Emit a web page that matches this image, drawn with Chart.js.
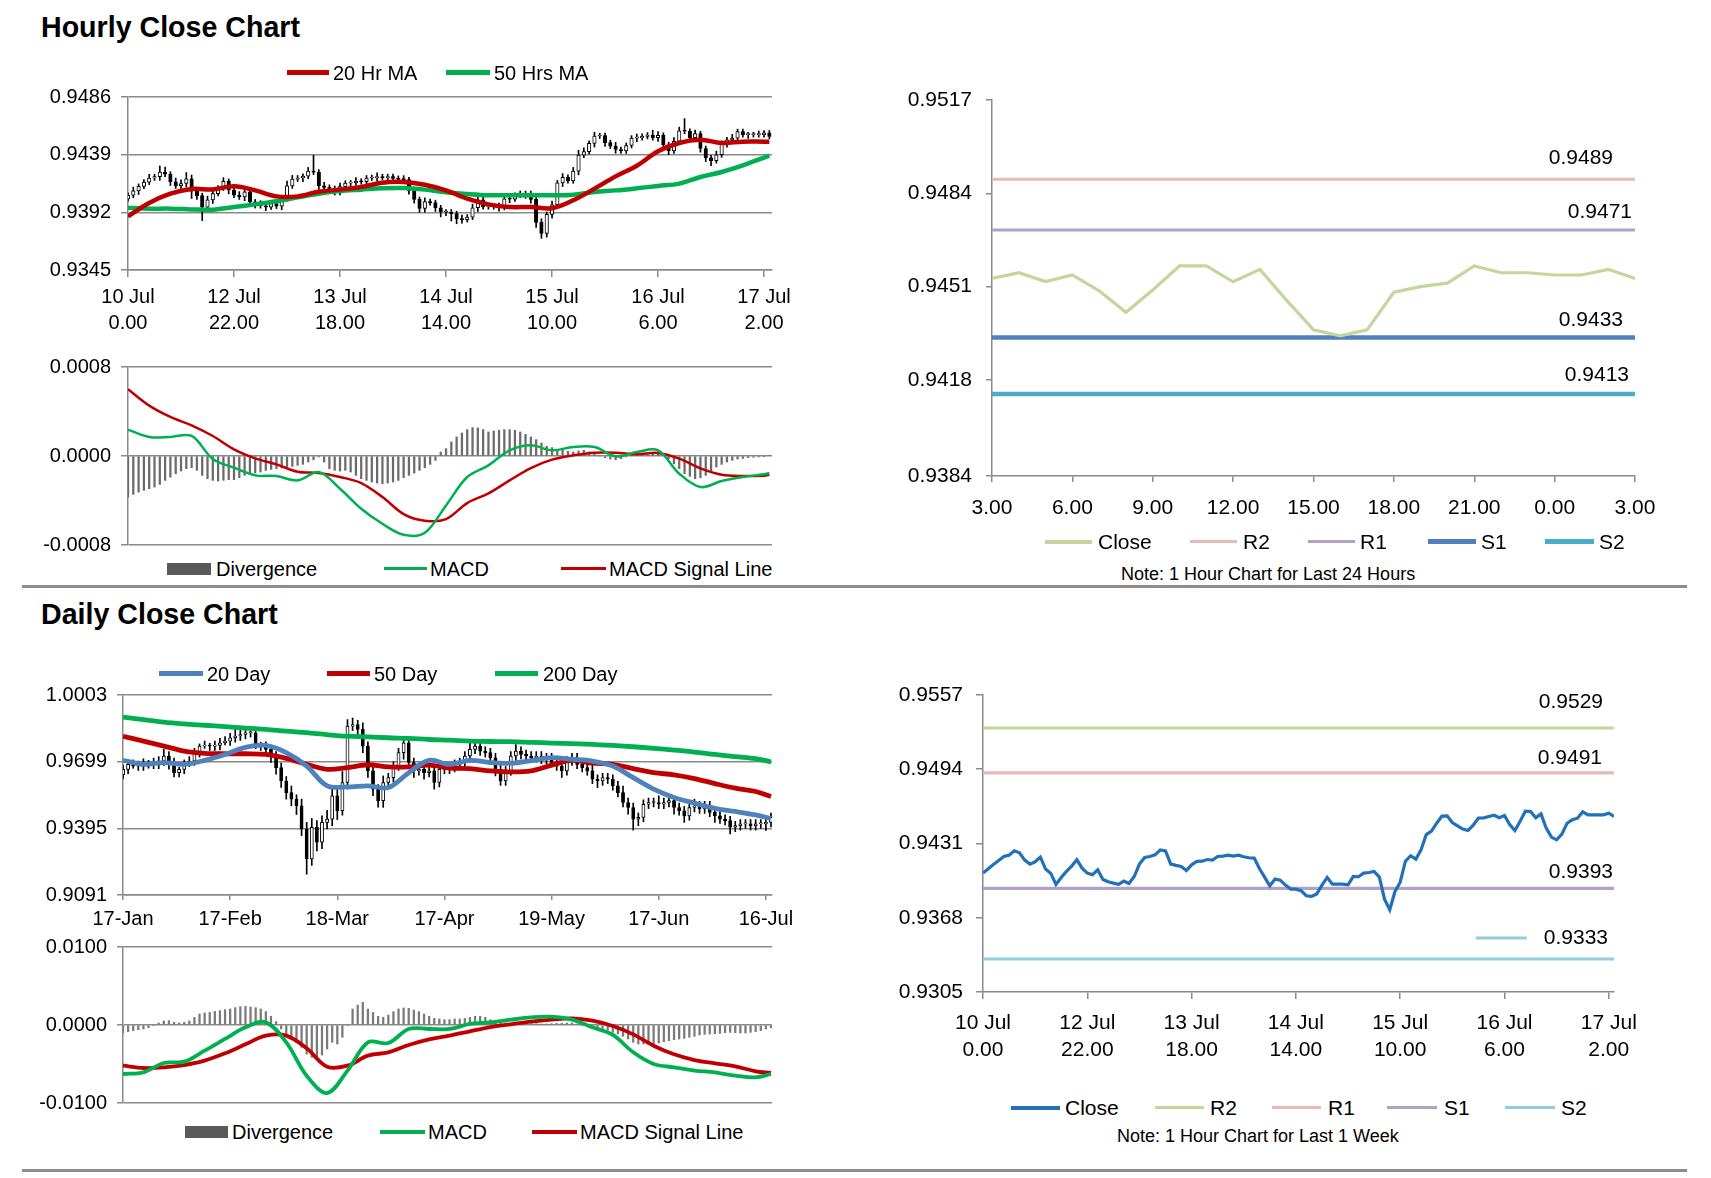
<!DOCTYPE html>
<html>
<head>
<meta charset="utf-8">
<script src="https://cdn.jsdelivr.net/npm/chart.js@4.4.0/dist/chart.umd.min.js"></script>
<style>
  html, body { margin: 0; padding: 0; background: #fff; }
  body { font-family: "Liberation Sans", Arial, sans-serif; color: #000; }
  #page { position: relative; width: 1711px; height: 1178px; overflow: hidden; background: #fff; }
  .t { position: absolute; white-space: nowrap; line-height: 1; }
  .b { font-weight: bold; }
  .k { position: absolute; }
  canvas { position: absolute; }
  .sep { position: absolute; left: 22px; width: 1665px; height: 3px; background: #8c8c8c; }
</style>
</head>
<body>
<div id="page">
  <canvas id="cA" width="800" height="270" style="left:0px;top:80px"></canvas>
  <canvas id="cB" width="800" height="205" style="left:0px;top:350px"></canvas>
  <canvas id="cC" width="790" height="455" style="left:870px;top:80px"></canvas>
  <canvas id="cD" width="800" height="252" style="left:0px;top:678px"></canvas>
  <canvas id="cE" width="800" height="183" style="left:0px;top:930px"></canvas>
  <canvas id="cF" width="790" height="395" style="left:860px;top:675px"></canvas>

  <div class="t b" style="left:41px;top:13px;font-size:28.6px">Hourly Close Chart</div>
  <div class="k" style="left:287px;top:70px;width:42px;height:5px;background:#C00000"></div>
  <div class="t" style="left:333px;top:63px;font-size:20px">20 Hr MA</div>
  <div class="k" style="left:446px;top:70px;width:44px;height:5px;background:#00B050"></div>
  <div class="t" style="left:494px;top:63px;font-size:20px">50 Hrs MA</div>

  <div class="k" style="left:167px;top:563px;width:44px;height:12px;background:#595959"></div>
  <div class="t" style="left:216px;top:559px;font-size:20px">Divergence</div>
  <div class="k" style="left:384px;top:567px;width:43px;height:3px;background:#00B050"></div>
  <div class="t" style="left:430px;top:559px;font-size:20px">MACD</div>
  <div class="k" style="left:561px;top:567px;width:45px;height:3px;background:#C00000"></div>
  <div class="t" style="left:609px;top:559px;font-size:20px">MACD Signal Line</div>

  <div class="k" style="left:1045px;top:540px;width:47px;height:4px;background:#C3D69B"></div>
  <div class="t" style="left:1098px;top:531px;font-size:21px">Close</div>
  <div class="k" style="left:1190px;top:540px;width:47px;height:3px;background:#E6B9B8"></div>
  <div class="t" style="left:1243px;top:531px;font-size:21px">R2</div>
  <div class="k" style="left:1308px;top:540px;width:47px;height:3px;background:#B3A2C7"></div>
  <div class="t" style="left:1360px;top:531px;font-size:21px">R1</div>
  <div class="k" style="left:1428px;top:539px;width:48px;height:5px;background:#4F81BD"></div>
  <div class="t" style="left:1481px;top:531px;font-size:21px">S1</div>
  <div class="k" style="left:1545px;top:539px;width:49px;height:5px;background:#4BACC6"></div>
  <div class="t" style="left:1599px;top:531px;font-size:21px">S2</div>
  <div class="t" style="left:1121px;top:565px;font-size:18px">Note: 1 Hour Chart for Last 24 Hours</div>

  <div class="sep" style="top:585px"></div>

  <div class="t b" style="left:41px;top:600px;font-size:28.6px">Daily Close Chart</div>
  <div class="k" style="left:159px;top:671px;width:44px;height:5px;background:#4F81BD"></div>
  <div class="t" style="left:207px;top:664px;font-size:20px">20 Day</div>
  <div class="k" style="left:327px;top:671px;width:43px;height:5px;background:#C00000"></div>
  <div class="t" style="left:374px;top:664px;font-size:20px">50 Day</div>
  <div class="k" style="left:495px;top:671px;width:43px;height:5px;background:#00B050"></div>
  <div class="t" style="left:543px;top:664px;font-size:20px">200 Day</div>

  <div class="k" style="left:185px;top:1126px;width:43px;height:12px;background:#595959"></div>
  <div class="t" style="left:232px;top:1122px;font-size:20px">Divergence</div>
  <div class="k" style="left:380px;top:1130px;width:45px;height:4px;background:#00B050"></div>
  <div class="t" style="left:428px;top:1122px;font-size:20px">MACD</div>
  <div class="k" style="left:532px;top:1130px;width:45px;height:4px;background:#C00000"></div>
  <div class="t" style="left:580px;top:1122px;font-size:20px">MACD Signal Line</div>

  <div class="k" style="left:1011px;top:1106px;width:49px;height:4px;background:#2270B8"></div>
  <div class="t" style="left:1065px;top:1097px;font-size:21px">Close</div>
  <div class="k" style="left:1155px;top:1106px;width:49px;height:3px;background:#C3D69B"></div>
  <div class="t" style="left:1210px;top:1097px;font-size:21px">R2</div>
  <div class="k" style="left:1272px;top:1106px;width:49px;height:3px;background:#E6B9B8"></div>
  <div class="t" style="left:1328px;top:1097px;font-size:21px">R1</div>
  <div class="k" style="left:1387px;top:1106px;width:50px;height:3px;background:#B3A2C7"></div>
  <div class="t" style="left:1444px;top:1097px;font-size:21px">S1</div>
  <div class="k" style="left:1505px;top:1106px;width:50px;height:3px;background:#93CDDD"></div>
  <div class="t" style="left:1561px;top:1097px;font-size:21px">S2</div>
  <div class="t" style="left:1117px;top:1127px;font-size:18px">Note: 1 Hour Chart for Last 1 Week</div>

  <div class="sep" style="top:1169px"></div>
</div>

<script>
// ---------------- DATA ----------------
// Hourly closes, 10 Jul 0.00 .. 17 Jul ~3.00 (122 hourly bars)
const hourCloses = [
  0.94059, 0.94095, 0.94132, 0.94166, 0.94200, 0.94211, 0.94248, 0.94231, 0.94169, 0.94135,
  0.94155, 0.94194, 0.94093, 0.94056, 0.93963, 0.94022, 0.94073, 0.94118, 0.94172, 0.94101,
  0.94059, 0.94045, 0.94087, 0.94005, 0.93985, 0.93974, 0.93963, 0.93991, 0.93971, 0.94030,
  0.94135, 0.94191, 0.94200, 0.94214, 0.94256, 0.94248, 0.94135, 0.94124, 0.94115, 0.94081,
  0.94129, 0.94158, 0.94160, 0.94174, 0.94169, 0.94200, 0.94203, 0.94211, 0.94203, 0.94211,
  0.94197, 0.94189, 0.94186, 0.94098, 0.94025, 0.93951, 0.94008, 0.93999, 0.93957, 0.93923,
  0.93923, 0.93909, 0.93867, 0.93861, 0.93881, 0.93957, 0.94022, 0.93965, 0.93965, 0.93965,
  0.93960, 0.94030, 0.94028, 0.94059, 0.94064, 0.94073, 0.94025, 0.93838, 0.93748, 0.93903,
  0.93982, 0.94160, 0.94206, 0.94177, 0.94256, 0.94386, 0.94415, 0.94482, 0.94542, 0.94545,
  0.94488, 0.94460, 0.94432, 0.94420, 0.94465, 0.94525, 0.94528, 0.94539, 0.94550, 0.94528,
  0.94548, 0.94471, 0.94420, 0.94499, 0.94584, 0.94581, 0.94528, 0.94561, 0.94440, 0.94364,
  0.94341, 0.94389, 0.94482, 0.94511, 0.94525, 0.94578, 0.94553, 0.94553, 0.94553, 0.94553,
  0.94567, 0.94539
];
const hourFirstOpen = 0.94030;
// upper / lower shadow lengths, in pips (0.0001)
const hourWickUp = [
  2,3,2,2,3,2,5,4,2,3, 3,5,3,2,2,3,2,2,3,2, 2,3,2,2,2,3,2,2,3,2, 4,3,2,2,3,13,2,3,2,2,
  3,2,2,3,2,2,2,3,2,2, 2,2,3,2,2,2,3,2,2,2, 2,2,2,3,2,3,2,2,2,2, 3,2,2,2,3,2,2,2,3,2,
  3,2,3,2,3,4,3,2,3,2, 2,2,3,2,2,2,3,2,2,4, 3,2,2,3,3,10,2,3,2,2, 2,3,2,2,3,2,2,2,2,3,
  2,2
];
const hourWickDn = [
  2,2,3,2,2,2,3,2,3,2, 2,3,6,3,11,2,3,2,2,3, 2,2,3,2,3,2,3,2,2,3, 2,2,2,3,2,2,3,2,4,2,
  2,2,3,2,2,2,2,3,2,2, 2,3,2,3,3,3,3,2,3,4, 3,6,4,3,2,2,3,2,2,2, 3,2,3,2,2,3,3,4,4,3,
  3,2,3,2,2,3,2,2,3,2, 3,2,3,2,2,2,3,2,2,2, 3,2,3,2,2,2,3,2,3,3, 4,2,2,3,2,2,2,3,2,2,
  2,2
];
// moving averages / MACD sampled every 4 hourly bars (plus the last bar)
const hourSampleIdx = [0,4,8,12,16,20,24,28,32,36,40,44,48,52,56,60,64,68,72,76,80,84,88,92,96,100,104,108,112,116,120,121];
const hourMA20 = [0.93887, 0.93996, 0.94072, 0.94110, 0.94107, 0.94132, 0.94099, 0.94050, 0.94050, 0.94088,
  0.94105, 0.94126, 0.94162, 0.94167, 0.94145, 0.94099, 0.94031, 0.93985, 0.93963, 0.93963,
  0.93953, 0.94018, 0.94113, 0.94213, 0.94300, 0.94417, 0.94485, 0.94512, 0.94485, 0.94496, 0.94496, 0.94496];
const hourMA50 = [0.93958, 0.93950, 0.93950, 0.93944, 0.93942, 0.93963, 0.93985, 0.94010, 0.94042, 0.94072,
  0.94094, 0.94105, 0.94116, 0.94118, 0.94105, 0.94083, 0.94069, 0.94059, 0.94059, 0.94059,
  0.94059, 0.94064, 0.94086, 0.94099, 0.94116, 0.94135, 0.94154, 0.94208, 0.94249, 0.94303, 0.94366, 0.94382];
const hourMACD = [0.000237, 0.000171, 0.000171, 0.000180, -0.000027, -0.000105, -0.000174, -0.000180, -0.000219, -0.000144,
  -0.000294, -0.000474, -0.000609, -0.000708, -0.000690, -0.000444, -0.000189, -0.000084, 0.000051, 0.000096,
  0.000051, 0.000081, 0.000081, -0.000003, 0.000036, 0.000051, -0.000159, -0.000279, -0.000225, -0.000189, -0.000165, -0.000153];
const hourSignal = [0.000600, 0.000453, 0.000351, 0.000276, 0.000180, 0.000060, -0.000021, -0.000075, -0.000141, -0.000153,
  -0.000189, -0.000243, -0.000369, -0.000522, -0.000582, -0.000567, -0.000423, -0.000336, -0.000219, -0.000108,
  -0.000033, 0.000006, 0.000030, 0.000030, 0.000015, 0.000027, -0.000024, -0.000111, -0.000168, -0.000180, -0.000177, -0.000168];
const hourDivergence = [
  -0.000369, -0.000345, -0.000324, -0.000309, -0.000294, -0.000279, -0.000255, -0.000219, -0.000189, -0.000159,
  -0.000135, -0.000114, -0.000105, -0.000129, -0.000174, -0.000204, -0.000219, -0.000225, -0.000219, -0.000213,
  -0.000213, -0.000195, -0.000174, -0.000159, -0.000153, -0.000144, -0.000129, -0.000120, -0.000114, -0.000108,
  -0.000099, -0.000093, -0.000084, -0.000075, -0.000054, -0.000033, -0.000009, -0.000054, -0.000114, -0.000129,
  -0.000135, -0.000129, -0.000144, -0.000174, -0.000204, -0.000219, -0.000234, -0.000243, -0.000249, -0.000243,
  -0.000234, -0.000219, -0.000195, -0.000174, -0.000153, -0.000129, -0.000105, -0.000075, -0.000039, 0.000036,
  0.000066, 0.000126, 0.000171, 0.000207, 0.000237, 0.000255, 0.000252, 0.000237, 0.000216, 0.000225,
  0.000231, 0.000237, 0.000237, 0.000231, 0.000216, 0.000195, 0.000171, 0.000147, 0.000117, 0.000087,
  0.000075, 0.000057, 0.000051, 0.000042, 0.000036, 0.000045, 0.000051, 0.000036, 0.000021, 0.000000,
  -0.000015, -0.000027, -0.000033, -0.000024, -0.000009, 0.000006, 0.000009, 0.000012, 0.000012, 0.000015,
  0.000015, 0.000006, -0.000024, -0.000069, -0.000114, -0.000159, -0.000183, -0.000204, -0.000195, -0.000174,
  -0.000144, -0.000099, -0.000075, -0.000054, -0.000039, -0.000027, -0.000021, -0.000015, -0.000012, -0.000009,
  -0.000006, 0.000006
];
const hourTickIdx = [0, 20, 40, 60, 80, 100, 120];
const hourTickLabels = [['10 Jul','0.00'], ['12 Jul','22.00'], ['13 Jul','18.00'], ['14 Jul','14.00'], ['15 Jul','10.00'], ['16 Jul','6.00'], ['17 Jul','2.00']];
const hourPriceTicks = [0.9345, 0.9392, 0.9439, 0.9486];
const hourMacdTicks = [-0.0008, 0.0000, 0.0008];

// Daily candles 17-Jan .. 16-Jul (128 trading days)
const dayCloses = [
  0.9664, 0.9687, 0.9679, 0.9692, 0.9679, 0.9695, 0.9687, 0.9702, 0.9725, 0.9695,
  0.9649, 0.9664, 0.9687, 0.9702, 0.9740, 0.9770, 0.9773, 0.9770, 0.9773, 0.9785,
  0.9793, 0.9808, 0.9816, 0.9823, 0.9831, 0.9831, 0.9778, 0.9770, 0.9755, 0.9725,
  0.9672, 0.9611, 0.9558, 0.9528, 0.9498, 0.9392, 0.9256, 0.9400, 0.9332, 0.9422,
  0.9437, 0.9543, 0.9475, 0.9604, 0.9861, 0.9868, 0.9846, 0.9770, 0.9657, 0.9574,
  0.9521, 0.9604, 0.9626, 0.9679, 0.9740, 0.9785, 0.9695, 0.9657, 0.9664, 0.9649,
  0.9657, 0.9604, 0.9664, 0.9664, 0.9672, 0.9687, 0.9695, 0.9725, 0.9755, 0.9770,
  0.9747, 0.9740, 0.9717, 0.9664, 0.9611, 0.9657, 0.9725, 0.9747, 0.9732, 0.9725,
  0.9717, 0.9725, 0.9710, 0.9717, 0.9695, 0.9679, 0.9657, 0.9702, 0.9717, 0.9687,
  0.9672, 0.9657, 0.9619, 0.9611, 0.9626, 0.9619, 0.9589, 0.9558, 0.9513, 0.9490,
  0.9437, 0.9445, 0.9505, 0.9513, 0.9513, 0.9505, 0.9513, 0.9521, 0.9490, 0.9475,
  0.9452, 0.9490, 0.9498, 0.9483, 0.9498, 0.9468, 0.9452, 0.9437, 0.9430, 0.9400,
  0.9407, 0.9415, 0.9415, 0.9407, 0.9415, 0.9415, 0.9422, 0.9445
];
const dayFirstOpen = 0.9640;
// shadow lengths in units of 0.001
const dayWickUp = [
  2,1,2,1,2,1,2,2,3,2, 2,1,2,2,2,1,2,1,2,2, 2,2,3,2,2,2,2,1,2,2, 2,2,2,3,2,3,3,4,3,3,
  4,3,3,5,3,3,2,3,2,3, 2,3,2,2,2,3,2,2,3,2, 2,2,3,2,2,2,2,2,3,2, 2,2,2,2,3,2,2,3,2,2,
  2,2,2,2,2,2,3,2,2,2, 2,2,3,2,2,2,2,2,3,2, 2,2,2,2,2,3,2,2,2,2, 2,2,3,2,2,2,2,2,2,2,
  2,2,2,2,2,2,2,2
];
const dayWickDn = [
  2,2,1,2,2,1,2,2,2,3, 2,2,2,1,2,2,1,2,2,2, 1,2,2,2,2,2,2,2,2,3, 3,3,3,3,4,3,7,3,4,3,
  3,3,4,2,3,2,3,3,3,3, 3,3,2,2,2,3,2,3,2,3, 2,3,2,2,2,2,2,2,2,2, 2,2,3,3,2,2,2,2,2,2,
  2,2,2,2,2,2,3,2,2,2, 2,2,2,3,2,2,2,2,2,3, 5,3,2,2,2,2,2,2,3,2, 3,2,2,2,2,2,3,2,2,3,
  2,2,2,2,2,2,3,2
];
const daySampleIdx = [0,4,8,12,16,20,24,28,32,36,40,44,48,52,56,60,64,68,72,76,80,84,88,92,96,100,104,108,112,116,120,124,127];
const dayMA20 = [0.9705, 0.9687, 0.9695, 0.9687, 0.9705, 0.9732, 0.9764, 0.9773, 0.9740, 0.9679, 0.9589, 0.9584, 0.9589,
  0.9581, 0.9649, 0.9705, 0.9687, 0.9705, 0.9695, 0.9692, 0.9704, 0.9717, 0.9710, 0.9702, 0.9679, 0.9626,
  0.9574, 0.9536, 0.9510, 0.9486, 0.9472, 0.9456, 0.9440];
const dayMA50 = [0.9815, 0.9793, 0.9770, 0.9747, 0.9737, 0.9735, 0.9735, 0.9732, 0.9714, 0.9687, 0.9664, 0.9672, 0.9685,
  0.9675, 0.9675, 0.9683, 0.9670, 0.9667, 0.9657, 0.9652, 0.9657, 0.9683, 0.9705, 0.9692, 0.9687, 0.9667,
  0.9649, 0.9639, 0.9622, 0.9599, 0.9578, 0.9563, 0.9540];
const dayMA200 = [0.9902, 0.9891, 0.9879, 0.9871, 0.9865, 0.9859, 0.9852, 0.9846, 0.9838, 0.9831, 0.9822, 0.9815, 0.9812,
  0.9808, 0.9805, 0.9800, 0.9797, 0.9793, 0.9791, 0.9790, 0.9787, 0.9784, 0.9781, 0.9778, 0.9773, 0.9767,
  0.9760, 0.9752, 0.9743, 0.9732, 0.9722, 0.9713, 0.9698];
const dayMACD = [-0.00628, -0.00607, -0.00487, -0.00470, -0.00329, -0.00179, -0.00030, 0.00034, -0.00222, -0.00650, -0.00872,
  -0.00585, -0.00222, -0.00231, -0.00051, -0.00051, -0.00051, 0.00013, 0.00034, 0.00068, 0.00098, 0.00107,
  0.00068, -0.00030, -0.00128, -0.00350, -0.00500, -0.00543, -0.00585, -0.00607, -0.00650, -0.00671, -0.00628];
const daySignal = [-0.00521, -0.00551, -0.00543, -0.00513, -0.00457, -0.00363, -0.00248, -0.00137, -0.00137, -0.00299, -0.00534,
  -0.00521, -0.00393, -0.00350, -0.00256, -0.00184, -0.00137, -0.00081, -0.00026, 0.00009, 0.00043, 0.00068,
  0.00085, 0.00056, -0.00013, -0.00120, -0.00265, -0.00376, -0.00449, -0.00491, -0.00530, -0.00594, -0.00615];
const dayDivergence = [
  -0.00103, -0.00085, -0.00073, -0.00060, -0.00051, -0.00034, -0.00009, 0.00026, 0.00051, 0.00056,
  0.00034, 0.00026, 0.00034, 0.00051, 0.00098, 0.00141, 0.00154, 0.00162, 0.00175, 0.00184,
  0.00197, 0.00205, 0.00222, 0.00235, 0.00239, 0.00231, 0.00222, 0.00205, 0.00171, 0.00111,
  0.00043, -0.00051, -0.00128, -0.00179, -0.00222, -0.00286, -0.00372, -0.00415, -0.00444, -0.00385,
  -0.00308, -0.00222, -0.00244, -0.00158, -0.00009, 0.00205, 0.00256, 0.00291, 0.00205, 0.00162,
  0.00111, 0.00098, 0.00128, 0.00171, 0.00205, 0.00218, 0.00214, 0.00192, 0.00171, 0.00141,
  0.00111, 0.00085, 0.00077, 0.00068, 0.00068, 0.00077, 0.00077, 0.00085, 0.00098, 0.00111,
  0.00111, 0.00098, 0.00068, 0.00034, 0.00026, 0.00026, 0.00021, 0.00021, 0.00021, 0.00021,
  0.00017, 0.00017, 0.00013, 0.00013, 0.00017, 0.00021, 0.00021, 0.00026, 0.00026, 0.00013,
  0.00000, -0.00017, -0.00030, -0.00043, -0.00051, -0.00068, -0.00094, -0.00115, -0.00145, -0.00179,
  -0.00222, -0.00244, -0.00244, -0.00244, -0.00244, -0.00231, -0.00214, -0.00201, -0.00188, -0.00179,
  -0.00171, -0.00158, -0.00145, -0.00128, -0.00120, -0.00115, -0.00111, -0.00107, -0.00098, -0.00094,
  -0.00098, -0.00103, -0.00103, -0.00094, -0.00085, -0.00073, -0.00051, -0.00034
];
const dayTickIdx = [0, 21, 42, 63, 84, 105, 126];
const dayTickLabels = ['17-Jan', '17-Feb', '18-Mar', '17-Apr', '19-May', '17-Jun', '16-Jul'];
const dayPriceTicks = [0.9091, 0.9395, 0.9699, 1.0003];
const dayMacdTicks = [-0.0100, 0.0000, 0.0100];

// Last 24 hours (1 hour chart)
const last24Hours = ['3.00','4.00','5.00','6.00','7.00','8.00','9.00','10.00','11.00','12.00','13.00','14.00','15.00',
  '16.00','17.00','18.00','19.00','20.00','21.00','22.00','23.00','0.00','1.00','2.00','3.00'];
const last24Close = [0.94539, 0.94559, 0.94528, 0.94551, 0.94495, 0.94419, 0.94498, 0.94583, 0.94583, 0.94527,
  0.94571, 0.94461, 0.94357, 0.94336, 0.94357, 0.94490, 0.94510, 0.94522, 0.94583, 0.94559,
  0.94559, 0.94551, 0.94551, 0.94571, 0.94539];
const last24TickIdx = [0, 3, 6, 9, 12, 15, 18, 21, 24];
const last24Ticks = [0.9384, 0.9418, 0.9451, 0.9484, 0.9517];
const pivot24 = { R2: 0.9489, R1: 0.9471, S1: 0.9433, S2: 0.9413 };

// Last week (1 hour chart) uses hourCloses
const weekTicks = [0.9305, 0.9368, 0.9431, 0.9494, 0.9557];
const pivotWeek = { R2: 0.9529, R1: 0.9491, S1: 0.9393, S2: 0.9333 };

// ---------------- RENDERING ----------------
const FONT = '"Liberation Sans", Arial, sans-serif';
const GRAY = '#8a8a8a';
const RED = '#C00000', GREEN = '#00B050', BLUE = '#4F81BD';
Chart.defaults.font.family = FONT;
Chart.defaults.color = '#000';

function makeOpts(o) {
  return {
    responsive: false, animation: false, events: [],
    layout: { autoPadding: false, padding: o.pad },
    plugins: { legend: { display: false }, tooltip: { enabled: false } },
    scales: {
      x: {
        type: 'linear', min: 0, max: o.xMax, offset: false, display: o.xShow,
        afterBuildTicks: s => { s.ticks = o.xTicks.map(v => ({ value: v })); },
        afterFit: s => { if (o.xShow) s.height = o.xH; s.paddingLeft = 0; s.paddingRight = 0; },
        ticks: { autoSkip: false, maxRotation: 0, minRotation: 0, padding: o.xPad || 0,
                 font: { family: FONT, size: o.fs, lineHeight: o.xLh || 1.2 }, color: '#000',
                 callback: (v, i) => o.xLabels[i] },
        grid: { display: true, drawOnChartArea: false, drawTicks: true, tickLength: o.xTickLen || 6,
                color: GRAY, lineWidth: 1.5, offset: false },
        border: { display: true, color: GRAY, width: 1.5 }
      },
      y: {
        min: o.yMin, max: o.yMax, beginAtZero: false,
        afterBuildTicks: s => { s.ticks = o.yTicks.map(v => ({ value: v })); },
        afterFit: s => { s.width = o.yW; s.paddingTop = 0; s.paddingBottom = 0; },
        ticks: { padding: o.yPad, font: { family: FONT, size: o.fs }, color: '#000',
                 callback: v => Number(v).toFixed(4) },
        grid: { drawOnChartArea: o.yGrid, drawTicks: true, tickLength: o.yTickLen,
                color: GRAY, lineWidth: 1.5 },
        border: { display: true, color: GRAY, width: 1.5 }
      }
    }
  };
}

function candleSets(closes, firstOpen, up, dn, unit, bodyW) {
  const opens = closes.map((c, i) => i === 0 ? firstOpen : closes[i - 1]);
  const wick = closes.map((c, i) => ({ x: i, y: [Math.min(opens[i], c) - dn[i] * unit, Math.max(opens[i], c) + up[i] * unit] }));
  const body = closes.map((c, i) => ({ x: i, y: [opens[i], c] }));
  const fill = closes.map((c, i) => c >= opens[i] ? '#ffffff' : '#000000');
  return [
    { type: 'bar', data: wick, backgroundColor: '#000', borderWidth: 0, barThickness: 1, grouped: false, order: 3 },
    { type: 'bar', data: body, backgroundColor: fill, borderColor: '#000', borderWidth: 1, borderSkipped: false,
      barThickness: bodyW, minBarLength: 1, grouped: false, order: 2 }
  ];
}
function sampledLine(idx, vals, color, width) {
  return { type: 'line', data: vals.map((v, k) => ({ x: idx[k], y: v })), borderColor: color, borderWidth: width,
           pointRadius: 0, tension: 0.35, fill: false, order: 0 };
}
function histogram(vals, color, w) {
  return { type: 'bar', data: vals.map((v, i) => ({ x: i, y: v })), backgroundColor: color, borderWidth: 0,
           barThickness: w, grouped: false, order: 2 };
}
function levelLine(value, last, color, width) {
  return { type: 'line', data: [{ x: 0, y: value }, { x: last, y: value }], borderColor: color, borderWidth: width,
           pointRadius: 0, fill: false };
}
function levelLabelPlugin(items, size) {
  return {
    id: 'levelLabels',
    afterDatasetsDraw(chart) {
      const { ctx, chartArea } = chart; const y = chart.scales.y;
      ctx.save();
      ctx.font = size + 'px ' + FONT; ctx.fillStyle = '#000';
      ctx.textAlign = 'right'; ctx.textBaseline = 'middle';
      items.forEach(it => {
        const py = y.getPixelForValue(it.value) - it.dy;
        const rx = chartArea.right - it.dx;
        const txt = it.value.toFixed(4);
        ctx.fillText(txt, rx, py);
        if (it.key) {
          const w = ctx.measureText(txt).width;
          ctx.strokeStyle = it.key; ctx.lineWidth = 3; ctx.beginPath();
          ctx.moveTo(rx - w - 68, py); ctx.lineTo(rx - w - 17, py); ctx.stroke();
        }
      });
      ctx.restore();
    }
  };
}

// A: hourly candles
new Chart(document.getElementById('cA'), {
  type: 'bar',
  data: { datasets: [
    sampledLine(hourSampleIdx, hourMA20, RED, 4.5),
    sampledLine(hourSampleIdx, hourMA50, GREEN, 4.5),
    ...candleSets(hourCloses, hourFirstOpen, hourWickUp, hourWickDn, 0.0001, 3.5)
  ] },
  options: makeOpts({ pad: { top: 17, right: 28, left: 0, bottom: 0 }, xMax: 121.5, xShow: true, xTicks: hourTickIdx,
    xLabels: hourTickLabels, xH: 80, xPad: 8, xTickLen: 7, xLh: 1.29, fs: 20,
    yMin: 0.9345, yMax: 0.9486, yTicks: hourPriceTicks, yW: 128, yPad: 10, yTickLen: 7, yGrid: true })
});

// B: hourly MACD
new Chart(document.getElementById('cB'), {
  type: 'bar',
  data: { datasets: [
    sampledLine(hourSampleIdx, hourMACD, GREEN, 2.5),
    sampledLine(hourSampleIdx, hourSignal, RED, 2.5),
    histogram(hourDivergence, '#6b6b6b', 1.6)
  ] },
  options: makeOpts({ pad: { top: 17, right: 28, left: 0, bottom: 10 }, xMax: 121.5, xShow: false, xTicks: hourTickIdx,
    xLabels: hourTickLabels, fs: 20,
    yMin: -0.0008, yMax: 0.0008, yTicks: hourMacdTicks, yW: 128, yPad: 10, yTickLen: 7, yGrid: true })
});

// C: last 24 hours with pivots
new Chart(document.getElementById('cC'), {
  type: 'line',
  data: { datasets: [
    { data: last24Close.map((v, i) => ({ x: i, y: v })), borderColor: '#C3D69B', borderWidth: 3.2, pointRadius: 0, tension: 0, fill: false },
    levelLine(pivot24.R2, 24, '#E6B9B8', 3),
    levelLine(pivot24.R1, 24, '#B3A2C7', 3),
    levelLine(pivot24.S1, 24, '#4F81BD', 4.5),
    levelLine(pivot24.S2, 24, '#4BACC6', 4.5)
  ] },
  options: makeOpts({ pad: { top: 20, right: 25, left: 0, bottom: 0 }, xMax: 24, xShow: true, xTicks: last24TickIdx,
    xLabels: last24TickIdx.map(i => last24Hours[i]), xH: 59, xPad: 14, xTickLen: 6, xLh: 1.2, fs: 21,
    yMin: 0.9384, yMax: 0.9517, yTicks: last24Ticks, yW: 122, yPad: 14, yTickLen: 6, yGrid: false }),
  plugins: [levelLabelPlugin([
    { value: pivot24.R2, dy: 21, dx: 22 }, { value: pivot24.R1, dy: 18, dx: 3 },
    { value: pivot24.S1, dy: 17, dx: 12 }, { value: pivot24.S2, dy: 19, dx: 6 }
  ], 21)]
});

// D: daily candles
new Chart(document.getElementById('cD'), {
  type: 'bar',
  data: { datasets: [
    sampledLine(daySampleIdx, dayMA20, BLUE, 4.8),
    sampledLine(daySampleIdx, dayMA50, RED, 4.8),
    sampledLine(daySampleIdx, dayMA200, GREEN, 4.8),
    ...candleSets(dayCloses, dayFirstOpen, dayWickUp, dayWickDn, 0.001, 3.2)
  ] },
  options: makeOpts({ pad: { top: 17, right: 28, left: 0, bottom: 0 }, xMax: 127.2, xShow: true, xTicks: dayTickIdx,
    xLabels: dayTickLabels, xH: 35, xPad: 7, xTickLen: 5, xLh: 1.2, fs: 20,
    yMin: 0.9091, yMax: 1.0003, yTicks: dayPriceTicks, yW: 123, yPad: 10, yTickLen: 6, yGrid: true })
});

// E: daily MACD
new Chart(document.getElementById('cE'), {
  type: 'bar',
  data: { datasets: [
    sampledLine(daySampleIdx, dayMACD, GREEN, 3.8),
    sampledLine(daySampleIdx, daySignal, RED, 3.8),
    histogram(dayDivergence, '#7a7a7a', 1.6)
  ] },
  options: makeOpts({ pad: { top: 17, right: 28, left: 0, bottom: 10 }, xMax: 127.2, xShow: false, xTicks: dayTickIdx,
    xLabels: dayTickLabels, fs: 20,
    yMin: -0.01, yMax: 0.01, yTicks: dayMacdTicks, yW: 123, yPad: 10, yTickLen: 6, yGrid: true })
});

// F: last week with pivots
new Chart(document.getElementById('cF'), {
  type: 'line',
  data: { datasets: [
    { data: hourCloses.map((v, i) => ({ x: i, y: v })), borderColor: '#2270B8', borderWidth: 3.2, pointRadius: 0, tension: 0, fill: false },
    levelLine(pivotWeek.R2, 121, '#C3D69B', 3.2),
    levelLine(pivotWeek.R1, 121, '#E6B9B8', 3.2),
    levelLine(pivotWeek.S1, 121, '#B3A2C7', 3.2),
    levelLine(pivotWeek.S2, 121, '#93CDDD', 3.2)
  ] },
  options: makeOpts({ pad: { top: 20, right: 36, left: 0, bottom: 0 }, xMax: 121, xShow: true, xTicks: hourTickIdx,
    xLabels: hourTickLabels, xH: 78, xPad: 11, xTickLen: 7, xLh: 1.286, fs: 21,
    yMin: 0.9305, yMax: 0.9557, yTicks: weekTicks, yW: 123, yPad: 13, yTickLen: 7, yGrid: false }),
  plugins: [levelLabelPlugin([
    { value: pivotWeek.R2, dy: 26, dx: 11 }, { value: pivotWeek.R1, dy: 15, dx: 12 },
    { value: pivotWeek.S1, dy: 16, dx: 1 }, { value: pivotWeek.S2, dy: 21, dx: 6, key: '#93CDDD' }
  ], 21)]
});
</script>
</body>
</html>
